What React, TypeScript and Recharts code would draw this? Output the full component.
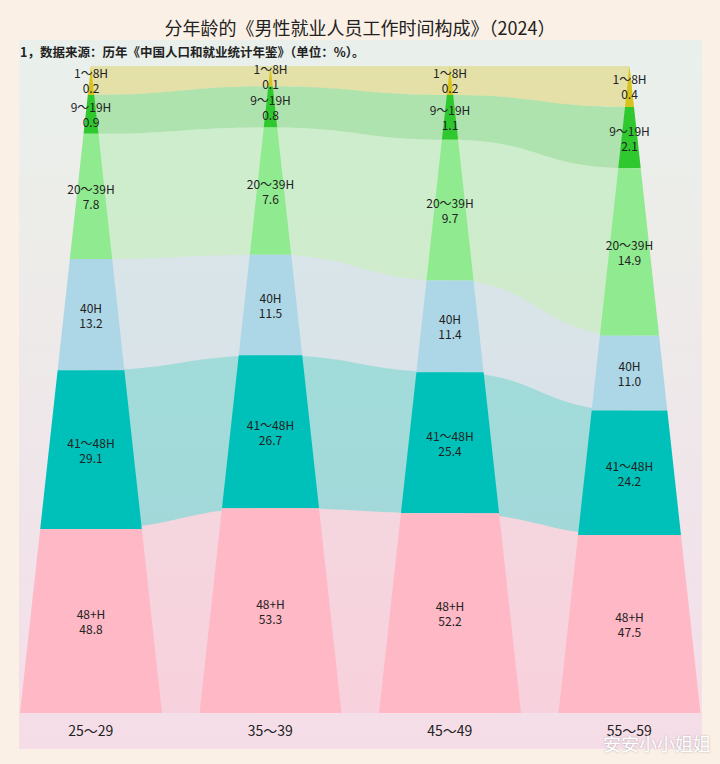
import { Area, Bar, ComposedChart, LabelList, XAxis, YAxis } from "recharts";

// Working-hours mix of employed men by age group (2024), drawn as stacked
// triangles (segment area ~ share) joined by ribbon bands.

const ages = ["25～29", "35～39", "45～49", "55～59"];
const groups = ["1～8H", "9～19H", "20～39H", "40H", "41～48H", "48+H"];
const colors = ["#d8c21c", "#2fc92f", "#90eb90", "#add7e6", "#00c1b9", "#ffb8c6"];

const h1to8 = [0.2, 0.1, 0.2, 0.4];
const h9to19 = [0.9, 0.8, 1.1, 2.1];
const h20to39 = [7.8, 7.6, 9.7, 14.9];
const h40 = [13.2, 11.5, 11.4, 11.0];
const h41to48 = [29.1, 26.7, 25.4, 24.2];
const h48plus = [48.8, 53.3, 52.2, 47.5];
const series = [h1to8, h9to19, h20to39, h40, h41to48, h48plus];

const FONT = '"Noto Sans CJK SC", "Noto Sans", sans-serif';
const CW = 720;
const CH = 764;
const MARGIN = { top: 66, right: 1, bottom: 15, left: 1 };
const X_AXIS_H = 36;
const PLOT_TOP = MARGIN.top;
const PLOT_H = CH - MARGIN.top - MARGIN.bottom - X_AXIS_H;

// share values normalised per column so each triangle fills 0..100
const rows = ages.map((age, i) => {
  const total = series.reduce((s, arr) => s + arr[i], 0);
  const row: Record<string, any> = { age };
  let cum = 0;
  series.forEach((arr, k) => {
    const share = (arr[i] / total) * 100;
    row[`s${k}`] = share;
    row[`r${k}`] = [cum, cum + share];
    row[`v${k}`] = arr[i];
    cum += share;
  });
  return row;
});

function Trapezoid(props: any) {
  const { x, y, width, height, fill } = props;
  if (width == null || height == null) return null;
  const top = Math.min(y, y + height);
  const bot = Math.max(y, y + height);
  const cx = x + width / 2;
  const wTop = (width / 2) * ((top - PLOT_TOP) / PLOT_H);
  const wBot = (width / 2) * ((bot - PLOT_TOP) / PLOT_H);
  return (
    <path
      d={`M${cx - wTop},${top}L${cx + wTop},${top}L${cx + wBot},${bot}L${cx - wBot},${bot}Z`}
      fill={fill}
    />
  );
}

function SegLabel(props: any) {
  const { x, y, width, height, index, k } = props;
  const cx = x + width / 2;
  const cy = y + height / 2;
  const v = series[k][index];
  return (
    <g fontFamily={FONT} fontSize={12} fill="#222" textAnchor="middle">
      <text x={cx} y={cy - 7.5} dominantBaseline="central">
        {groups[k]}
      </text>
      <text x={cx} y={cy + 7.5} dominantBaseline="central">
        {v.toFixed(1)}
      </text>
    </g>
  );
}

export default function App() {
  return (
    <div
      style={{
        position: "absolute",
        left: 0,
        top: 0,
        width: CW,
        height: CH,
        background: "#faf0e6",
        overflow: "hidden",
      }}
    >
      <div
        style={{
          position: "absolute",
          left: 19,
          top: 40,
          width: 683,
          height: 709,
          background:
            "linear-gradient(180deg, #e9f0eb 0%, #edece9 30%, #efe6ea 60%, #f5dde7 100%)",
        }}
      />
      <div
        style={{
          position: "absolute",
          left: 0,
          top: 14,
          width: CW,
          textAlign: "center",
          fontFamily: FONT,
          fontSize: 18,
          lineHeight: "26px",
          color: "#222",
        }}
      >
        分年龄的《男性就业人员工作时间构成》（2024）
      </div>
      <div
        style={{
          position: "absolute",
          left: 20,
          top: 44,
          fontFamily: FONT,
          fontSize: 12.5,
          fontWeight: 600,
          lineHeight: "16px",
          color: "#222",
        }}
      >
        1，数据来源：历年《中国人口和就业统计年鉴》（单位：%）。
      </div>
      <div style={{ position: "absolute", left: 0, top: 0 }}>
        <ComposedChart width={CW} height={CH} data={rows} margin={MARGIN}>
          <XAxis
            dataKey="age"
            height={X_AXIS_H}
            axisLine={false}
            tickLine={false}
            tickMargin={7}
            interval={0}
            tick={{ fontSize: 14, fill: "#222", fontFamily: FONT }}
          />
          <YAxis hide type="number" scale="sqrt" domain={[0, 100]} reversed allowDataOverflow />
          {series.map((_, k) => (
            <Area
              key={`band${k}`}
              dataKey={`r${k}`}
              type="bumpX"
              stroke="none"
              fill={colors[k]}
              fillOpacity={0.32}
              dot={false}
              activeDot={false}
              isAnimationActive={false}
            />
          ))}
          {series.map((_, k) => (
            <Bar
              key={`col${k}`}
              dataKey={`s${k}`}
              stackId="col"
              barSize={142}
              fill={colors[k]}
              shape={<Trapezoid />}
              isAnimationActive={false}
            >
              <LabelList dataKey={`v${k}`} content={(p: any) => <SegLabel {...p} k={k} />} />
            </Bar>
          ))}
        </ComposedChart>
      </div>
      <div
        style={{
          position: "absolute",
          left: 603,
          top: 731,
          fontFamily: FONT,
          fontSize: 18,
          lineHeight: "24px",
          color: "#ffffff",
          textShadow: "0 0 2px rgba(120,120,120,0.6)",
        }}
      >
        安安小小姐姐
      </div>
    </div>
  );
}
